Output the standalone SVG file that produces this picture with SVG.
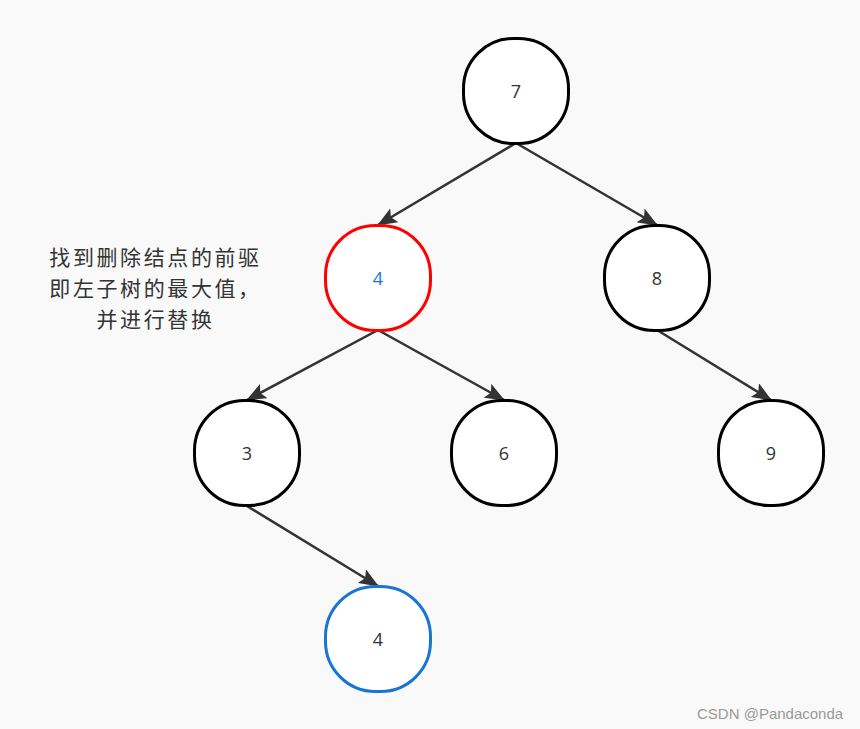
<svg xmlns="http://www.w3.org/2000/svg" width="860" height="729" viewBox="0 0 860 729">
<style>
.node{fill:#fff;stroke:#000;stroke-width:3}
.red{stroke:#ff0000}
.blue{stroke:#1a75d2}
.lbl{font-family:"Open Sans","Noto Sans","Liberation Sans",sans-serif;font-size:18px;fill:#333;text-anchor:middle;dominant-baseline:central}
.edge{stroke:#333;stroke-width:2.5;fill:none;marker-end:url(#arr)}
.note{font-family:"Noto Sans CJK SC","Noto Sans",sans-serif;font-size:21px;letter-spacing:2.6px;fill:#333;text-anchor:middle}
.wm{font-family:"Liberation Sans",Arial,sans-serif;font-size:15px;fill:#999}
</style>
<defs>
<marker id="arr" viewBox="0 0 20 16" refX="19" refY="8" markerWidth="20" markerHeight="16" markerUnits="userSpaceOnUse" orient="auto">
<path d="M0,0 L20,8 L0,16 L4,8 Z" fill="#333"/>
</marker>
</defs>
<rect width="860" height="729" fill="#f9f9f9"/>
<g id="connectors">
<line class="edge" x1="516" y1="143" x2="378" y2="225"/>
<line class="edge" x1="516" y1="143" x2="657" y2="225"/>
<line class="edge" x1="378" y1="330" x2="247" y2="400"/>
<line class="edge" x1="378" y1="330" x2="504" y2="400"/>
<line class="edge" x1="657" y1="330" x2="771" y2="400"/>
<line class="edge" x1="247" y1="506" x2="378" y2="586"/>
</g>
<g id="n7"><rect class="node" x="463.5" y="38.5" width="105" height="105" rx="50"/><text class="lbl" x="516" y="91">7</text></g>
<g id="n4"><rect class="node red" x="325.5" y="225.5" width="105" height="105" rx="50"/><text class="lbl" x="378" y="278" style="fill:#1a75d2">4</text></g>
<g id="n8"><rect class="node" x="604.5" y="225.5" width="105" height="105" rx="50"/><text class="lbl" x="657" y="278">8</text></g>
<g id="n3"><rect class="node" x="194.5" y="400.5" width="105" height="105" rx="50"/><text class="lbl" x="247" y="453">3</text></g>
<g id="n6"><rect class="node" x="451.5" y="400.5" width="105" height="105" rx="50"/><text class="lbl" x="504" y="453">6</text></g>
<g id="n9"><rect class="node" x="718.5" y="400.5" width="105" height="105" rx="50"/><text class="lbl" x="771" y="453">9</text></g>
<g id="n4b"><rect class="node blue" x="325.5" y="586.5" width="105" height="105" rx="50"/><text class="lbl" x="378" y="639">4</text></g>
<g id="note">
<text class="note" x="155.5" y="265">找到删除结点的前驱</text>
<text class="note" x="155.5" y="296">即左子树的最大值，</text>
<text class="note" x="155.5" y="327">并进行替换</text>
</g>
<text class="wm" x="697" y="719">CSDN @Pandaconda</text>
</svg>
